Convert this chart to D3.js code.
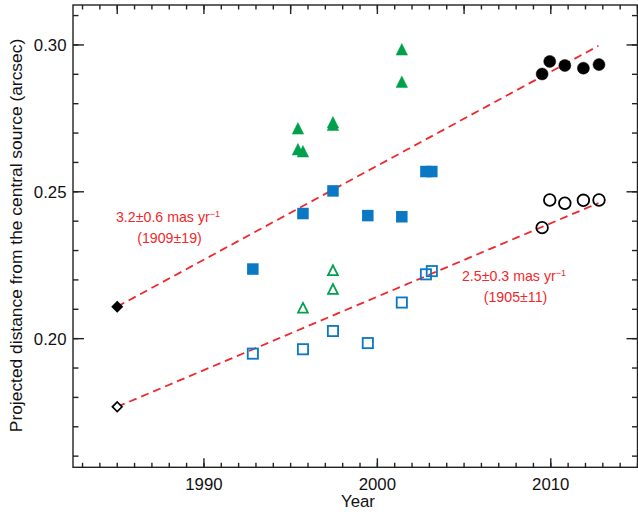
<!DOCTYPE html>
<head>
  <meta charset="utf-8">
  <script src="https://d3js.org/d3.v7.min.js"></script>
  <style>
    body { margin:0; background:#fff; }
    text { font-family: "Liberation Sans", Arial, sans-serif; }
  </style>
</head>
<body>
<script>
// epochs of the observations
var circleYears = [2009.50, 2009.94, 2010.81, 2011.88, 2012.78];
var squareYears = [1992.82, 1995.71, 1997.44, 1999.45, 2001.41, 2002.80, 2003.14];
var filledTriYears = [1995.42, 1995.42, 1995.71, 1997.44, 1997.44, 2001.41, 2001.41];
var openTriYears = [1995.71, 1997.44, 1997.44];
var originYear = 1985.0;

// projected distances (arcsec)
var filledCircleVals = [0.2901, 0.2944, 0.2930, 0.2921, 0.2933];
var openCircleVals = [0.2378, 0.2472, 0.2461, 0.2471, 0.2472];
var filledSquareVals = [0.2237, 0.2426, 0.2503, 0.2419, 0.2415, 0.2569, 0.2569];
var openSquareVals = [0.1949, 0.1964, 0.2026, 0.1985, 0.2123, 0.2219, 0.2230];
var filledTriVals = [0.2716, 0.2645, 0.2638, 0.2737, 0.2728, 0.2985, 0.2875];
var openTriVals = [0.2105, 0.2233, 0.2169];
var originVals = [0.2109, 0.1768];   // filled, open

// linear fits (mas/yr), drawn from the origin epoch to the last epoch
var fitRates = [3.2, 2.5];
var fitEnd = 2012.75;
var fitLabels = [["3.2\u00b10.6 mas yr", "(1909\u00b119)"], ["2.5\u00b10.3 mas yr", "(1905\u00b111)"]];

var yTicks = [0.20, 0.25, 0.30];
var xTicks = [1990, 2000, 2010];

var width = 638, height = 514;
var red = "#f0282d", green = "#00a04c", blue = "#0a78c2";

var x = d3.scaleLinear().domain([1982.45, 2015]).range([73, 637.5]);
var y = d3.scaleLinear().domain([0.1562, 0.3136]).range([467.3, 5]);

var svg = d3.select("body").append("svg")
  .attr("width", width).attr("height", height);

// frame
svg.append("rect")
  .attr("x", x.range()[0]).attr("y", y.range()[1])
  .attr("width", x.range()[1] - x.range()[0])
  .attr("height", y.range()[0] - y.range()[1])
  .attr("fill", "none").attr("stroke", "#222").attr("stroke-width", 1.4);

// ticks
var yMinor = d3.range(0.16, 0.3136, 0.01);
var xMinor = d3.range(1983, 2015.01, 1);

function tickLines(vals, horiz, pos, len, dir) {
  svg.append("g").selectAll("line").data(vals).enter().append("line")
    .attr("x1", function(d) { return horiz ? pos : x(d); })
    .attr("x2", function(d) { return horiz ? pos + dir * len : x(d); })
    .attr("y1", function(d) { return horiz ? y(d) : pos; })
    .attr("y2", function(d) { return horiz ? y(d) : pos + dir * len; })
    .attr("stroke", "#222").attr("stroke-width", 1.4);
}
tickLines(yMinor, true, x.range()[0], 5.5, 1);
tickLines(yMinor, true, x.range()[1], 5.5, -1);
tickLines(yTicks, true, x.range()[0], 11, 1);
tickLines(yTicks, true, x.range()[1], 11, -1);
tickLines(xMinor, false, y.range()[0], 4.5, -1);
tickLines(xMinor, false, y.range()[1], 4.5, 1);
tickLines(xTicks, false, y.range()[0], 9, -1);
tickLines(d3.range(1985, 2015.01, 5), false, y.range()[1], 9, 1);

svg.append("g").selectAll("text").data(yTicks).enter().append("text")
  .attr("x", 66.5).attr("y", function(d) { return y(d) + 6; })
  .attr("text-anchor", "end").attr("font-size", "16.8px").attr("fill", "#111")
  .text(function(d) { return d.toFixed(2); });

svg.append("g").selectAll("text").data(xTicks).enter().append("text")
  .attr("x", function(d) { return x(d); }).attr("y", 490)
  .attr("text-anchor", "middle").attr("font-size", "16.8px").attr("fill", "#111")
  .text(function(d) { return d; });

svg.append("text")
  .attr("x", 358).attr("y", 507)
  .attr("text-anchor", "middle").attr("font-size", "16.8px").attr("fill", "#111")
  .text("Year");

svg.append("text")
  .attr("transform", "translate(21.5,235.5) rotate(-90)")
  .attr("text-anchor", "middle").attr("font-size", "17.4px").attr("fill", "#111")
  .text("Projected distance from the central source (arcsec)");

// fit lines
fitRates.forEach(function(r, i) {
  var y0 = originVals[i];
  svg.append("line")
    .attr("x1", x(originYear)).attr("y1", y(y0))
    .attr("x2", x(fitEnd)).attr("y2", y(y0 + r / 1000 * (fitEnd - originYear)))
    .attr("stroke", red).attr("stroke-width", 1.8)
    .attr("stroke-dasharray", "8,5");
});

// markers
function zip(xs, ys) { return xs.map(function(d, i) { return [d, ys[i]]; }); }

function circles(data, filled) {
  svg.append("g").selectAll("circle").data(data).enter().append("circle")
    .attr("cx", function(d) { return x(d[0]); })
    .attr("cy", function(d) { return y(d[1]); })
    .attr("r", filled ? 6 : 5.8)
    .attr("fill", filled ? "#000" : "none")
    .attr("stroke", "#000").attr("stroke-width", filled ? 0.5 : 1.8);
}
function squares(data, filled) {
  var s = filled ? 11.5 : 10.2;
  svg.append("g").selectAll("rect").data(data).enter().append("rect")
    .attr("x", function(d) { return x(d[0]) - s / 2; })
    .attr("y", function(d) { return y(d[1]) - s / 2; })
    .attr("width", s).attr("height", s)
    .attr("fill", filled ? blue : "none")
    .attr("stroke", filled ? "none" : blue).attr("stroke-width", 1.8);
}
function triangles(data, filled) {
  var h = filled ? 11.5 : 9.8, w = filled ? 11.5 : 9.8;
  svg.append("g").selectAll("path").data(data).enter().append("path")
    .attr("d", function(d) {
      var cx = x(d[0]), cy = y(d[1]);
      return "M" + cx + "," + (cy - h / 2) + "L" + (cx + w / 2) + "," + (cy + h / 2) +
        "L" + (cx - w / 2) + "," + (cy + h / 2) + "Z";
    })
    .attr("fill", filled ? green : "none")
    .attr("stroke", green).attr("stroke-width", filled ? 0.5 : 1.8)
    .attr("stroke-linejoin", "miter");
}
function diamond(yr, v, filled) {
  var r = 4.8, cx = x(yr), cy = y(v);
  svg.append("path")
    .attr("d", "M" + cx + "," + (cy - r) + "L" + (cx + r) + "," + cy + "L" + cx + "," + (cy + r) + "L" + (cx - r) + "," + cy + "Z")
    .attr("fill", filled ? "#000" : "#fff")
    .attr("stroke", "#000").attr("stroke-width", 1.7);
}

squares(zip(squareYears, filledSquareVals), true);
squares(zip(squareYears, openSquareVals), false);
triangles(zip(filledTriYears, filledTriVals), true);
triangles(zip(openTriYears, openTriVals), false);
circles(zip(circleYears, filledCircleVals), true);
circles(zip(circleYears, openCircleVals), false);
diamond(originYear, originVals[0], true);
diamond(originYear, originVals[1], false);

// fit annotations
var labelPos = [[168, 222], [514, 281]];
fitLabels.forEach(function(lab, i) {
  var t = svg.append("text")
    .attr("x", labelPos[i][0]).attr("y", labelPos[i][1])
    .attr("text-anchor", "middle").attr("font-size", "14.2px").attr("fill", red);
  t.append("tspan").text(lab[0]);
  t.append("tspan").attr("dy", -5.5).attr("font-size", "9px").text("\u22121");
  svg.append("text")
    .attr("x", labelPos[i][0] + 1.5).attr("y", labelPos[i][1] + 20.5)
    .attr("text-anchor", "middle").attr("font-size", "14.2px").attr("fill", red)
    .text(lab[1]);
});
</script>
</body>
